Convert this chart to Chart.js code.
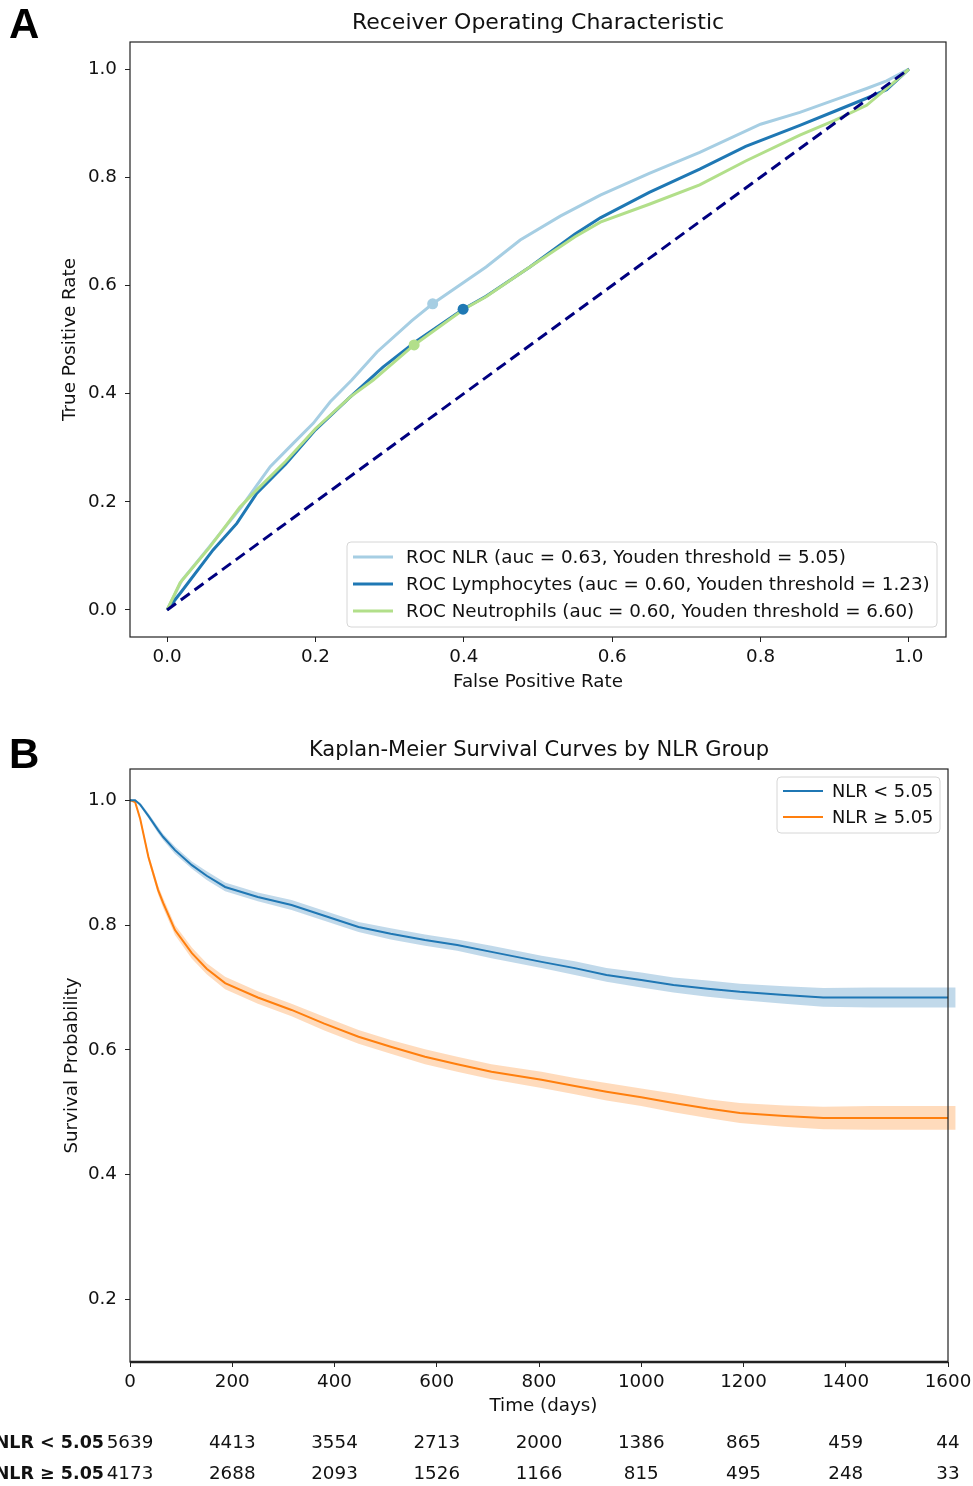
<!DOCTYPE html>
<html>
<head>
<meta charset="utf-8">
<script src="https://cdn.jsdelivr.net/npm/chart.js@4.4.1/dist/chart.umd.min.js"></script>
<style>
  body { margin: 0; background: #fff; }
  canvas { display: block; }
</style>
</head>
<body>
<canvas id="rocChart" width="973" height="705"></canvas>
<canvas id="kmChart" width="973" height="781"></canvas>
<script>
var FONT = "'DejaVu Sans', sans-serif";
var FS = 18.3;
Chart.defaults.font.family = FONT;
Chart.defaults.color = '#111';

// ---- panel A: ROC curves ----
var nlrFpr = [0, 0.02, 0.05, 0.1, 0.125, 0.139, 0.17, 0.197, 0.22, 0.249, 0.283, 0.33, 0.358, 0.43, 0.476, 0.53, 0.584, 0.65, 0.718, 0.8, 0.853, 0.9, 0.943, 0.97, 1];
var nlrTpr = [0, 0.055, 0.105, 0.19, 0.238, 0.265, 0.308, 0.345, 0.385, 0.425, 0.477, 0.535, 0.566, 0.634, 0.684, 0.728, 0.767, 0.807, 0.846, 0.898, 0.92, 0.943, 0.964, 0.978, 1];
var lymFpr = [0, 0.02, 0.062, 0.094, 0.121, 0.16, 0.2, 0.247, 0.291, 0.334, 0.399, 0.43, 0.489, 0.55, 0.584, 0.65, 0.718, 0.78, 0.853, 0.9, 0.943, 0.97, 1];
var lymTpr = [0, 0.035, 0.111, 0.16, 0.216, 0.27, 0.333, 0.394, 0.449, 0.495, 0.556, 0.58, 0.634, 0.695, 0.725, 0.772, 0.815, 0.857, 0.896, 0.922, 0.946, 0.962, 1];
var neuFpr = [0, 0.0175, 0.058, 0.098, 0.121, 0.16, 0.2, 0.247, 0.278, 0.333, 0.4, 0.43, 0.489, 0.55, 0.584, 0.65, 0.718, 0.78, 0.853, 0.9, 0.943, 0.988, 1];
var neuTpr = [0, 0.05, 0.117, 0.19, 0.222, 0.275, 0.335, 0.394, 0.425, 0.49, 0.556, 0.579, 0.634, 0.69, 0.717, 0.75, 0.786, 0.83, 0.878, 0.905, 0.933, 0.985, 1];
var youdenNlr = [0.358, 0.566];
var youdenLym = [0.399, 0.556];
var youdenNeu = [0.333, 0.49];
var rocLabels = [
  'ROC NLR (auc = 0.63, Youden threshold = 5.05)',
  'ROC Lymphocytes (auc = 0.60, Youden threshold = 1.23)',
  'ROC Neutrophils (auc = 0.60, Youden threshold = 6.60)'
];
var rocColors = ['#a6cee3', '#1f78b4', '#b2df8a'];
var rocTicks = [0, 0.2, 0.4, 0.6, 0.8, 1.0];

// ---- panel B: Kaplan-Meier ----
var kmTime = [0, 10, 20, 36, 55, 65, 88, 121, 150, 186, 250, 316, 380, 447, 510, 577, 640, 707, 805, 870, 932, 1000, 1063, 1130, 1193, 1280, 1356, 1450, 1600];
var lowSurv = [1.0, 1.0, 0.993, 0.975, 0.952, 0.941, 0.92, 0.896, 0.879, 0.861, 0.845, 0.832, 0.815, 0.797, 0.786, 0.776, 0.768, 0.757, 0.741, 0.731, 0.72, 0.712, 0.704, 0.698, 0.693, 0.688, 0.684, 0.684, 0.684];
var highSurv = [1.0, 0.997, 0.97, 0.909, 0.856, 0.835, 0.792, 0.755, 0.73, 0.707, 0.684, 0.664, 0.642, 0.621, 0.605, 0.589, 0.577, 0.565, 0.552, 0.542, 0.533, 0.524, 0.515, 0.506, 0.499, 0.494, 0.491, 0.491, 0.491];
// confidence bands run a little past the last time point
var ciTime = [0, 10, 20, 36, 55, 65, 88, 121, 150, 186, 250, 316, 380, 447, 510, 577, 640, 707, 805, 870, 932, 1000, 1063, 1130, 1193, 1280, 1356, 1450, 1600, 1615];
var lowUpper = [1.0, 1.0, 0.996, 0.979, 0.957, 0.946, 0.926, 0.902, 0.886, 0.868, 0.852, 0.840, 0.823, 0.805, 0.795, 0.785, 0.777, 0.767, 0.751, 0.742, 0.731, 0.724, 0.716, 0.711, 0.706, 0.702, 0.699, 0.700, 0.700, 0.700];
var lowLower = [1.0, 0.999, 0.990, 0.971, 0.947, 0.936, 0.914, 0.890, 0.872, 0.854, 0.838, 0.824, 0.807, 0.789, 0.777, 0.767, 0.759, 0.747, 0.731, 0.720, 0.709, 0.700, 0.692, 0.685, 0.680, 0.674, 0.669, 0.668, 0.668, 0.668];
var highUpper = [1.0, 0.999, 0.974, 0.915, 0.863, 0.843, 0.800, 0.764, 0.739, 0.717, 0.694, 0.674, 0.653, 0.632, 0.616, 0.601, 0.589, 0.577, 0.565, 0.555, 0.547, 0.538, 0.530, 0.521, 0.515, 0.511, 0.509, 0.510, 0.510, 0.510];
var highLower = [1.0, 0.995, 0.966, 0.903, 0.849, 0.827, 0.784, 0.746, 0.721, 0.697, 0.674, 0.654, 0.631, 0.610, 0.594, 0.577, 0.565, 0.553, 0.539, 0.529, 0.519, 0.510, 0.500, 0.491, 0.483, 0.477, 0.473, 0.472, 0.472, 0.472];
var kmLabels = ['NLR < 5.05', 'NLR \u2265 5.05'];
var kmColors = ['#1f77b4', '#ff7f0e'];
var kmXTicks = [0, 200, 400, 600, 800, 1000, 1200, 1400, 1600];
var kmYTicks = [0.2, 0.4, 0.6, 0.8, 1.0];
var riskTimes = [0, 200, 400, 600, 800, 1000, 1200, 1400, 1600];
var riskLow = [5639, 4413, 3554, 2713, 2000, 1386, 865, 459, 44];
var riskHigh = [4173, 2688, 2093, 1526, 1166, 815, 495, 248, 33];

function pts(xs, ys) {
  return xs.map(function (x, i) { return { x: x, y: ys[i] }; });
}

function axis(min, max, tickList, fmt, title, titlePad, size, tickPad) {
  return {
    type: 'linear',
    min: min,
    max: max,
    afterBuildTicks: function (s) {
      s.ticks = tickList.map(function (v) { return { value: v }; });
    },
    afterFit: function (s) {
      if (s.isHorizontal()) {
        s.height = size;
        s.paddingLeft = 0;
        s.paddingRight = 0;
      } else {
        s.width = size;
        s.paddingTop = 0;
        s.paddingBottom = 0;
      }
    },
    ticks: {
      callback: fmt,
      autoSkip: false,
      maxRotation: 0,
      padding: tickPad,
      color: '#111',
      font: { size: FS }
    },
    grid: { drawOnChartArea: false, drawTicks: true, tickLength: 5, color: '#222', lineWidth: 1 },
    border: { display: false },
    title: { display: true, text: title, color: '#111', font: { size: FS }, padding: titlePad }
  };
}

function roundRect(ctx, x, y, w, h, r) {
  ctx.beginPath();
  ctx.moveTo(x + r, y);
  ctx.lineTo(x + w - r, y);
  ctx.quadraticCurveTo(x + w, y, x + w, y + r);
  ctx.lineTo(x + w, y + h - r);
  ctx.quadraticCurveTo(x + w, y + h, x + w - r, y + h);
  ctx.lineTo(x + r, y + h);
  ctx.quadraticCurveTo(x, y + h, x, y + h - r);
  ctx.lineTo(x, y + r);
  ctx.quadraticCurveTo(x, y, x + r, y);
  ctx.closePath();
}

// frame, panel letter, title and legend box
var panelPlugin = {
  id: 'panel',
  afterDraw: function (chart, args, o) {
    var ctx = chart.ctx, a = chart.chartArea;
    var right = o.frameMaxX != null ? chart.scales.x.getPixelForValue(o.frameMaxX) : a.right;
    ctx.save();
    ctx.strokeStyle = '#222';
    ctx.lineWidth = 1.2;
    ctx.strokeRect(a.left, a.top, right - a.left, a.bottom - a.top);
    if (o.thickBottom) {
      ctx.lineWidth = 2.5;
      ctx.beginPath();
      ctx.moveTo(a.left, a.bottom);
      ctx.lineTo(right, a.bottom);
      ctx.stroke();
    }

    ctx.fillStyle = '#000';
    ctx.font = 'bold 42px "Liberation Sans", Arial, sans-serif';
    ctx.textAlign = 'left';
    ctx.textBaseline = 'alphabetic';
    ctx.fillText(o.letter, 9, o.letterY);

    ctx.fillStyle = '#111';
    ctx.font = o.titleSize + 'px ' + FONT;
    ctx.textAlign = 'center';
    ctx.textBaseline = 'middle';
    ctx.fillText(o.title, (a.left + right) / 2, o.titleY);

    var L = o.legend;
    roundRect(ctx, L.x, L.y, L.w, L.h, 4);
    ctx.fillStyle = 'rgba(255,255,255,0.85)';
    ctx.fill();
    ctx.strokeStyle = '#d6d6d6';
    ctx.lineWidth = 1;
    ctx.stroke();
    ctx.font = L.fontSize + 'px ' + FONT;
    ctx.textAlign = 'left';
    L.items.forEach(function (it, i) {
      var y = L.y + L.firstRow + i * L.rowGap;
      ctx.strokeStyle = it.color;
      ctx.lineWidth = L.lineWidth;
      ctx.beginPath();
      ctx.moveTo(L.x + 6, y);
      ctx.lineTo(L.x + 6 + L.sample, y);
      ctx.stroke();
      ctx.fillStyle = '#111';
      ctx.fillText(it.label, L.x + L.textOff, y + 1);
    });
    ctx.restore();
  }
};

// number-at-risk table under the KM axis
var riskPlugin = {
  id: 'risk',
  afterDraw: function (chart, args, o) {
    if (!o.rows) return;
    var ctx = chart.ctx, xs = chart.scales.x;
    ctx.save();
    ctx.textBaseline = 'middle';
    ctx.fillStyle = '#111';
    o.rows.forEach(function (row) {
      ctx.font = 'bold 17.5px ' + FONT;
      ctx.textAlign = 'right';
      ctx.fillText(row.label, 104, row.y);
      ctx.font = FS + 'px ' + FONT;
      ctx.textAlign = 'center';
      riskTimes.forEach(function (t, i) {
        ctx.fillText(String(row.values[i]), xs.getPixelForValue(t), row.y);
      });
    });
    ctx.restore();
  }
};

new Chart(document.getElementById('rocChart'), {
  type: 'line',
  data: {
    datasets: [
      { data: pts([0, 1], [0, 1]), borderColor: '#000080', borderWidth: 3, borderDash: [11, 6], pointRadius: 0 },
      { data: pts([youdenNlr[0]], [youdenNlr[1]]), showLine: false, pointRadius: 5.5, pointBackgroundColor: rocColors[0], pointBorderWidth: 0 },
      { data: pts([youdenLym[0]], [youdenLym[1]]), showLine: false, pointRadius: 5.5, pointBackgroundColor: rocColors[1], pointBorderWidth: 0 },
      { data: pts([youdenNeu[0]], [youdenNeu[1]]), showLine: false, pointRadius: 5.5, pointBackgroundColor: rocColors[2], pointBorderWidth: 0 },
      { label: rocLabels[2], data: pts(neuFpr, neuTpr), borderColor: rocColors[2], borderWidth: 3, pointRadius: 0 },
      { label: rocLabels[1], data: pts(lymFpr, lymTpr), borderColor: rocColors[1], borderWidth: 3, pointRadius: 0 },
      { label: rocLabels[0], data: pts(nlrFpr, nlrTpr), borderColor: rocColors[0], borderWidth: 3, pointRadius: 0 }
    ]
  },
  options: {
    responsive: false,
    animation: false,
    devicePixelRatio: 1,
    layout: { padding: { left: 0, right: 27, top: 42, bottom: 0 } },
    scales: {
      x: axis(-0.05, 1.05, rocTicks, function (v) { return v.toFixed(1); }, 'False Positive Rate', { top: 0, bottom: 12 }, 68, 4),
      y: axis(-0.05, 1.05, rocTicks, function (v) { return v.toFixed(1); }, 'True Positive Rate', { top: 59, bottom: 0 }, 130, 8)
    },
    plugins: {
      legend: { display: false },
      tooltip: { enabled: false },
      panel: {
        letter: 'A', letterY: 38, title: 'Receiver Operating Characteristic', titleY: 23, titleSize: 22,
        legend: {
          x: 347, y: 542, w: 590, h: 85, firstRow: 15, rowGap: 27, sample: 40, textOff: 59, lineWidth: 3, fontSize: FS,
          items: rocLabels.map(function (l, i) { return { label: l, color: rocColors[i] }; })
        }
      }
    }
  },
  plugins: [panelPlugin]
});

new Chart(document.getElementById('kmChart'), {
  type: 'line',
  data: {
    datasets: [
      { label: kmLabels[0], data: pts(kmTime, lowSurv), borderColor: kmColors[0], borderWidth: 2, pointRadius: 0 },
      { label: kmLabels[1], data: pts(kmTime, highSurv), borderColor: kmColors[1], borderWidth: 2, pointRadius: 0 },
      { data: pts(ciTime, lowUpper), borderWidth: 0, pointRadius: 0, fill: '+1', backgroundColor: 'rgba(31,119,180,0.28)' },
      { data: pts(ciTime, lowLower), borderWidth: 0, pointRadius: 0, fill: false },
      { data: pts(ciTime, highUpper), borderWidth: 0, pointRadius: 0, fill: '+1', backgroundColor: 'rgba(255,127,14,0.28)' },
      { data: pts(ciTime, highLower), borderWidth: 0, pointRadius: 0, fill: false }
    ]
  },
  options: {
    responsive: false,
    animation: false,
    devicePixelRatio: 1,
    layout: { padding: { left: 0, right: 16, top: 64, bottom: 0 } },
    scales: {
      x: axis(0, 1617.6, kmXTicks, function (v) { return String(v); }, 'Time (days)', { top: 0, bottom: 69 }, 124, 4),
      y: axis(0.1, 1.05, kmYTicks, function (v) { return v.toFixed(1); }, 'Survival Probability', { top: 61, bottom: 0 }, 130, 8)
    },
    plugins: {
      legend: { display: false },
      tooltip: { enabled: false },
      panel: {
        letter: 'B', letterY: 63, title: 'Kaplan-Meier Survival Curves by NLR Group', titleY: 46, titleSize: 21, thickBottom: true, frameMaxX: 1600,
        legend: {
          x: 777, y: 72, w: 163, h: 56, firstRow: 14, rowGap: 26, sample: 40, textOff: 55, lineWidth: 2, fontSize: 17.8,
          items: kmLabels.map(function (l, i) { return { label: l, color: kmColors[i] }; })
        }
      },
      risk: {
        rows: [
          { label: kmLabels[0], values: riskLow, y: 738 },
          { label: kmLabels[1], values: riskHigh, y: 769 }
        ]
      }
    }
  },
  plugins: [panelPlugin, riskPlugin]
});
</script>
</body>
</html>
